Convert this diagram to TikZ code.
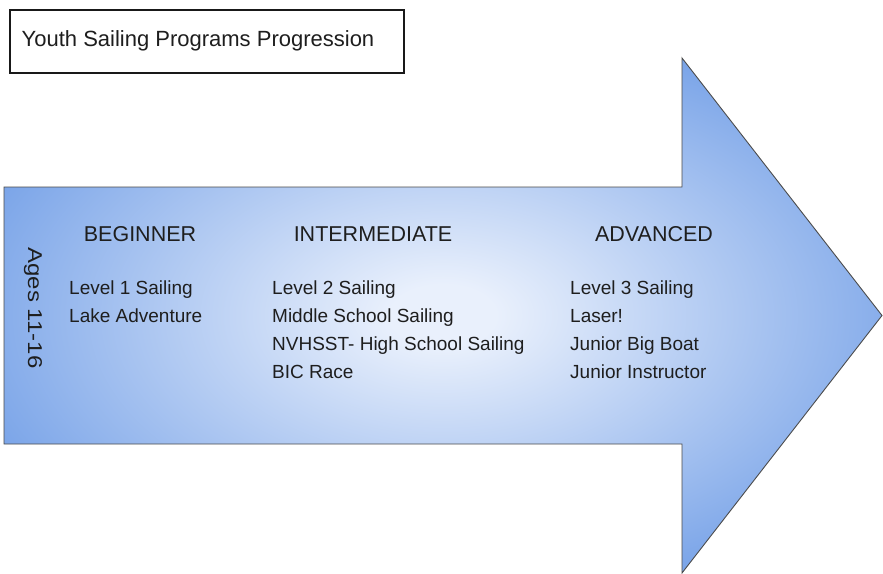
\documentclass[tikz,border=0pt]{standalone}
\usepackage{fontspec}
\setmainfont{Liberation Sans}
\definecolor{glowin}{HTML}{E9F0FC}
\definecolor{glowout}{HTML}{6E9CE6}
\definecolor{inkc}{HTML}{1E1E1E}
\pgfdeclareradialshading{sailglow}{\pgfpointorigin}{color(0bp)=(glowin); color(3bp)=(glowin); color(31bp)=(glowout); color(70bp)=(glowout)}
\begin{document}
\begin{tikzpicture}[x=1pt,y=-1pt,
  headtxt/.style={text=inkc, font=\fontsize{21.5}{25}\selectfont, inner sep=0pt},
  itemtxt/.style={text=inkc, font=\fontsize{19}{28}\selectfont, align=left, anchor=north west, inner sep=0pt},
  arrowshape/.style={draw=black!70, line width=0.9pt, shading=sailglow}]
\useasboundingbox (0,0) rectangle (883,573);
\fill[white] (0,0) rectangle (883,573);
% title box
\node[draw=black!90, line width=2pt, minimum width=394pt, minimum height=63pt, anchor=north west, inner sep=0pt] (titlebox) at (8.5,8.5) {};
\node[anchor=west, text=inkc, font=\fontsize{22}{26}\selectfont, inner sep=0pt] (title) at ([xshift=13pt]titlebox.west) {Youth Sailing Programs Progression};
% arrow
\path[arrowshape] (4,187) -- (682,187) -- (682,58) -- (882,315.5) -- (682,573) -- (682,444) -- (4,444) -- cycle;
% ages
\node[rotate=-90, text=inkc, font=\fontsize{20}{24}\selectfont, inner sep=0pt] (ages) at (33,308) {\scalebox{1.2}[1]{Ages 11-16}};
% headers
\node[headtxt] (beg) at (140,234) {BEGINNER};
\node[headtxt] (int) at (373,234) {INTERMEDIATE};
\node[headtxt] (adv) at (654,234) {ADVANCED};
% items
\node[itemtxt] (begitems) at (69,281) {Level 1 Sailing\\Lake Adventure};
\node[itemtxt] (intitems) at (272,281) {Level 2 Sailing\\Middle School Sailing\\NVHSST- High School Sailing\\BIC Race};
\node[itemtxt] (advitems) at (570,281) {Level 3 Sailing\\Laser!\\Junior Big Boat\\Junior Instructor};
\end{tikzpicture}
\end{document}
